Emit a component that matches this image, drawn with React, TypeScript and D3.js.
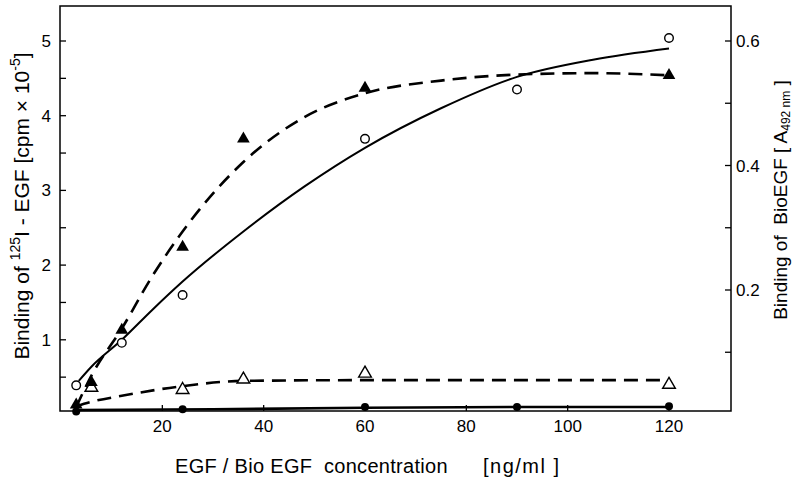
import React from "react";
import * as d3 from "d3";

// ---- Data ----
const xTicks = [20, 40, 60, 80, 100, 120];
const leftTickLabels = [1, 2, 3, 4, 5];
const leftMinorTicks = [0.5, 1, 1.5, 2, 2.5, 3, 3.5, 4, 4.5, 5];
const rightTickLabels = [0.2, 0.4, 0.6];
const rightMinorTicks = [0.1, 0.2, 0.3, 0.4, 0.5, 0.6];

// open circles (125I-EGF)
const openCircleX = [3, 12, 24, 60, 90, 120];
const openCircleY = [0.39, 0.96, 1.6, 3.69, 4.35, 5.04];
// filled triangles
const filledTriX = [3, 6, 12, 24, 36, 60, 120];
const filledTriY = [0.13, 0.43, 1.13, 2.24, 3.69, 4.37, 4.54];
// open triangles
const openTriX = [6, 24, 36, 60, 120];
const openTriY = [0.36, 0.33, 0.47, 0.55, 0.4];
// filled circles
const filledCircleX = [3, 24, 60, 90, 120];
const filledCircleY = [0.04, 0.07, 0.1, 0.1, 0.11];

// fitted curves
const solidFitX = [3.5, 6, 12, 18, 24, 36, 48, 60, 75, 90, 105, 120];
const solidFitY = [0.45, 0.64, 1.0, 1.4, 1.78, 2.45, 3.05, 3.57, 4.1, 4.52, 4.75, 4.9];
const dashedFitX = [3, 6, 12, 18, 24, 36, 48, 60, 75, 90, 105, 120];
const dashedFitY = [0.1, 0.52, 1.15, 1.85, 2.45, 3.38, 3.98, 4.3, 4.47, 4.55, 4.57, 4.54];
const lowDashedX = [3, 6, 12, 24, 36, 60, 90, 120];
const lowDashedY = [0.11, 0.17, 0.25, 0.38, 0.45, 0.46, 0.46, 0.46];
const lowSolidX = [3, 30, 60, 90, 120];
const lowSolidY = [0.06, 0.07, 0.09, 0.1, 0.1];

const W = 796;
const H = 485;
const left = 60, right = 731, top = 6, bottom = 411;

const x = d3.scaleLinear().domain([0, 120]).range([61, 669]);
const y = d3.scaleLinear().domain([0, 5]).range([414.5, 41]);
const yR = d3.scaleLinear().domain([0, 0.6]).range([414.5, 41]);

const zip = (xs: number[], ys: number[]) => xs.map((v, i) => [v, ys[i]] as [number, number]);
const line = d3
  .line<[number, number]>()
  .x((d) => x(d[0]))
  .y((d) => y(d[1]))
  .curve(d3.curveMonotoneX);
const straight = d3
  .line<[number, number]>()
  .x((d) => x(d[0]))
  .y((d) => y(d[1]));

const tri = d3.symbol().type(d3.symbolTriangle).size(70)();

const font = "'Liberation Sans', Arial, sans-serif";

export default function App() {
  return (
    <svg
      width={W}
      height={H}
      viewBox={`0 0 ${W} ${H}`}
      style={{ position: "absolute", left: 0, top: 0, background: "#fff" }}
      fontFamily={font}
    >
      <rect x={0} y={0} width={W} height={H} fill="#fff" />
      {/* frame */}
      <rect x={left} y={top} width={right - left} height={bottom - top} fill="none" stroke="#000" strokeWidth={1.5} />

      {/* x ticks */}
      {xTicks.map((t) => (
        <g key={"xt" + t}>
          <line x1={x(t)} x2={x(t)} y1={bottom} y2={bottom - 6} stroke="#000" strokeWidth={1.3} />
          <text x={x(t)} y={432} textAnchor="middle" fontSize={17}>
            {t}
          </text>
        </g>
      ))}

      {/* left ticks */}
      {leftMinorTicks.map((t) => (
        <line key={"lt" + t} x1={left} x2={left + 6} y1={y(t)} y2={y(t)} stroke="#000" strokeWidth={1.3} />
      ))}
      {leftTickLabels.map((t) => (
        <text key={"ll" + t} x={51} y={y(t) + 6} textAnchor="end" fontSize={17}>
          {t}
        </text>
      ))}

      {/* right ticks */}
      {rightMinorTicks.map((t) => (
        <line key={"rt" + t} x1={right} x2={right - 6} y1={yR(t)} y2={yR(t)} stroke="#000" strokeWidth={1.3} />
      ))}
      {rightTickLabels.map((t) => (
        <text key={"rl" + t} x={736} y={yR(t) + 6} textAnchor="start" fontSize={17}>
          {t.toFixed(1)}
        </text>
      ))}

      {/* curves */}
      <path d={line(zip(solidFitX, solidFitY)) || ""} fill="none" stroke="#000" strokeWidth={2} />
      <path
        d={line(zip(dashedFitX, dashedFitY)) || ""}
        fill="none"
        stroke="#000"
        strokeWidth={2.6}
        strokeDasharray="14 8"
      />
      <path
        d={line(zip(lowDashedX, lowDashedY)) || ""}
        fill="none"
        stroke="#000"
        strokeWidth={2.6}
        strokeDasharray="14 8"
      />
      <path d={straight(zip(lowSolidX, lowSolidY)) || ""} fill="none" stroke="#000" strokeWidth={2.6} />

      {/* markers */}
      {zip(openCircleX, openCircleY).map((d, i) => (
        <circle key={"oc" + i} cx={x(d[0])} cy={y(d[1])} r={4.3} fill="#fff" stroke="#000" strokeWidth={1.4} />
      ))}
      {zip(openTriX, openTriY).map((d, i) => (
        <path
          key={"ot" + i}
          d={tri || ""}
          transform={`translate(${x(d[0])},${y(d[1])})`}
          fill="#fff"
          stroke="#000"
          strokeWidth={1.4}
        />
      ))}
      {zip(filledTriX, filledTriY).map((d, i) => (
        <path key={"ft" + i} d={tri || ""} transform={`translate(${x(d[0])},${y(d[1])})`} fill="#000" />
      ))}
      {zip(filledCircleX, filledCircleY).map((d, i) => (
        <circle key={"fc" + i} cx={x(d[0])} cy={y(d[1])} r={4} fill="#000" />
      ))}

      {/* axis titles */}
      <text x={175} y={473} fontSize={20} letterSpacing={0.3} style={{ whiteSpace: "pre" }}>
        EGF / Bio EGF  concentration
      </text>
      <text x={483} y={473} fontSize={20} letterSpacing={1.5}>
        [ng/ml ]
      </text>

      <text transform={`translate(29,${206}) rotate(-90)`} textAnchor="middle" fontSize={21}>
        Binding of <tspan fontSize={14} dy={-9}>125</tspan>
        <tspan dy={9}>I - EGF [cpm × 10</tspan>
        <tspan fontSize={14} dy={-9}>-5</tspan>
        <tspan dy={9}>]</tspan>
      </text>

      <text transform={`translate(787,${200}) rotate(-90)`} textAnchor="middle" fontSize={19} style={{ whiteSpace: "pre" }}>
        Binding of  BioEGF [ A<tspan fontSize={12} dy={3}>492 nm</tspan>
        <tspan dy={-3}> ]</tspan>
      </text>
    </svg>
  );
}
